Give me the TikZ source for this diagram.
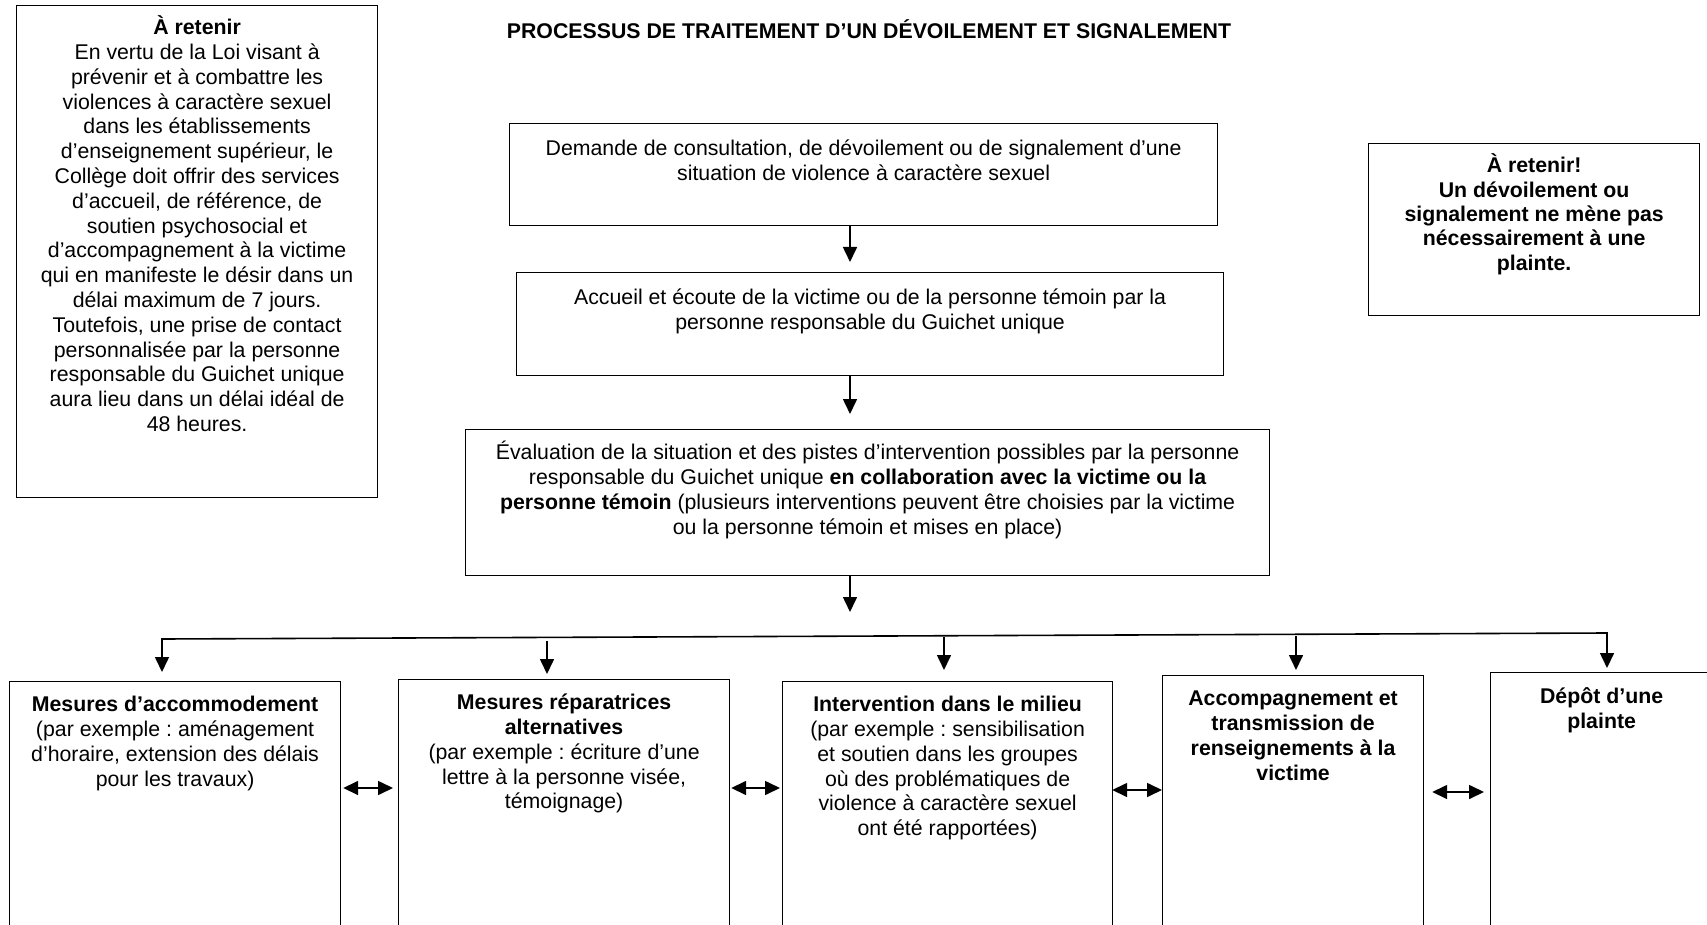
\documentclass[tikz,border=0pt]{standalone}
\usepackage{fontspec}
\setmainfont{Liberation Sans}
\usetikzlibrary{arrows.meta,calc}
\newcommand\fstrut{\rule{0pt}{20pt}}
\begin{document}
\frenchspacing
\begin{tikzpicture}[x=1pt,y=-1pt,
  box/.style={draw=black, line width=1.2pt, rectangle, inner sep=0pt, anchor=north west},
  txt/.style={anchor=north, inner sep=0pt, align=center, font=\fontsize{21.3pt}{24.8pt}\selectfont\frenchspacing},
  arr/.style={line width=1.6pt, -{Triangle[length=15pt,width=14pt]}},
  darr/.style={line width=1.6pt, {Triangle[length=15pt,width=14pt]}-{Triangle[length=15pt,width=14pt]}}]
\useasboundingbox (0,0) rectangle (1707,925);
\fill[white] (0,0) rectangle (1707,925);
\clip (0,0) rectangle (1707,925);

% boxes
\node[box, minimum width=361pt, minimum height=492pt] (L) at (16,5) {};
\node[box, minimum width=331pt, minimum height=172pt] (R) at (1368,143) {};
\node[box, minimum width=708pt, minimum height=102pt] (b1) at (509,123) {};
\node[box, minimum width=707pt, minimum height=103pt] (b2) at (516,272) {};
\node[box, minimum width=804pt, minimum height=146pt] (b3) at (465,429) {};
\node[box, minimum width=331pt, minimum height=280pt] (m1) at (9,681) {};
\node[box, minimum width=331pt, minimum height=280pt] (m2) at (398,679) {};
\node[box, minimum width=330pt, minimum height=280pt] (m3) at (782,681) {};
\node[box, minimum width=261pt, minimum height=280pt] (m4) at (1162,675) {};
\node[box, minimum width=222pt, minimum height=280pt] (m5) at (1490,672) {};

% title
\node[txt] (title) at (869,18.5) {\fstrut\textbf{PROCESSUS DE TRAITEMENT D’UN DÉVOILEMENT ET SIGNALEMENT}};

% texts
\node[txt] (tL) at ([yshift=-9.5pt]L.north) {\fstrut\textbf{À retenir}\\
En vertu de la Loi visant à\\
prévenir et à combattre les\\
violences à caractère sexuel\\
dans les établissements\\
d’enseignement supérieur, le\\
Collège doit offrir des services\\
d’accueil, de référence, de\\
soutien psychosocial et\\
d’accompagnement à la victime\\
qui en manifeste le désir dans un\\
délai maximum de 7 jours.\\
Toutefois, une prise de contact\\
personnalisée par la personne\\
responsable du Guichet unique\\
aura lieu dans un délai idéal de\\
48 heures.};

\node[txt, font=\fontsize{21.3pt}{24.4pt}\selectfont\bfseries] (tR) at ([yshift=-9.5pt]R.north) {\fstrut À retenir!\\
Un dévoilement ou\\
signalement ne mène pas\\
nécessairement à une\\
plainte.};

\node[txt] (t1) at ([yshift=-12.5pt]b1.north) {\fstrut Demande de consultation, de dévoilement ou de signalement d’une\\
situation de violence à caractère sexuel};

\node[txt] (t2) at ([yshift=-12.5pt]b2.north) {\fstrut Accueil et écoute de la victime ou de la personne témoin par la\\
personne responsable du Guichet unique};

\node[txt] (t3) at ([yshift=-10.5pt]b3.north) {\fstrut Évaluation de la situation et des pistes d’intervention possibles par la personne\\
responsable du Guichet unique \textbf{en collaboration avec la victime ou la}\\
\textbf{personne témoin} (plusieurs interventions peuvent être choisies par la victime\\
ou la personne témoin et mises en place)};

\node[txt] (tm1) at ([yshift=-10.5pt]m1.north) {\fstrut\textbf{Mesures d’accommodement}\\
(par exemple : aménagement\\
d’horaire, extension des délais\\
pour les travaux)};

\node[txt] (tm2) at ([yshift=-10.5pt]m2.north) {\fstrut\textbf{Mesures réparatrices}\\
\textbf{alternatives}\\
(par exemple : écriture d’une\\
lettre à la personne visée,\\
témoignage)};

\node[txt] (tm3) at ([yshift=-10.5pt]m3.north) {\fstrut\textbf{Intervention dans le milieu}\\
(par exemple : sensibilisation\\
et soutien dans les groupes\\
où des problématiques de\\
violence à caractère sexuel\\
ont été rapportées)};

\node[txt, font=\fontsize{21.3pt}{24.8pt}\selectfont\bfseries] (tm4) at ([yshift=-10.5pt]m4.north) {\fstrut Accompagnement et\\
transmission de\\
renseignements à la\\
victime};

\node[txt, font=\fontsize{21.3pt}{24.8pt}\selectfont\bfseries] (tm5) at ([yshift=-11.5pt]m5.north) {\fstrut Dépôt d’une\\
plainte};

% central arrows
\coordinate (col) at (850,0);
\draw[arr] (b1.south -| col) -- ($(b2.north -| col)+(0,-10)$);
\draw[arr] (b2.south -| col) -- ($(b3.north -| col)+(0,-15)$);
\coordinate (j) at (850,612);
\draw[arr] (b3.south -| col) -- (j);

% distribution line
\coordinate (hl) at (162,639);
\coordinate (hr) at (1607,633);
\draw[darr, line join=miter] ($(m1.north -| hl)+(0,-9)$) -- (hl) -- (hr) -- ($(m5.north -| hr)+(0,-4)$);
\coordinate (d2) at (547,641);
\coordinate (d3) at (944,637);
\coordinate (d4) at (1296,636);
\draw[arr] (d2) -- ($(m2.north -| d2)+(0,-5)$);
\draw[arr] (d3) -- ($(m3.north -| d3)+(0,-11)$);
\draw[arr] (d4) -- ($(m4.north -| d4)+(0,-5)$);

% double arrows
\coordinate (y12) at (0,788);
\coordinate (y23) at (0,788);
\coordinate (y34) at (0,790);
\coordinate (y45) at (0,792);
\draw[darr] ($(m1.east |- y12)+(2,0)$) -- ($(m2.west |- y12)+(-5,0)$);
\draw[darr] ($(m2.east |- y23)+(1,0)$) -- ($(m3.west |- y23)+(-2,0)$);
\draw[darr] ($(m3.east |- y34)+(-1,0)$) -- ($(m4.west |- y34)+(0,0)$);
\draw[darr] ($(m4.east |- y45)+(8,0)$) -- ($(m5.west |- y45)+(-6,0)$);
\end{tikzpicture}
\end{document}
